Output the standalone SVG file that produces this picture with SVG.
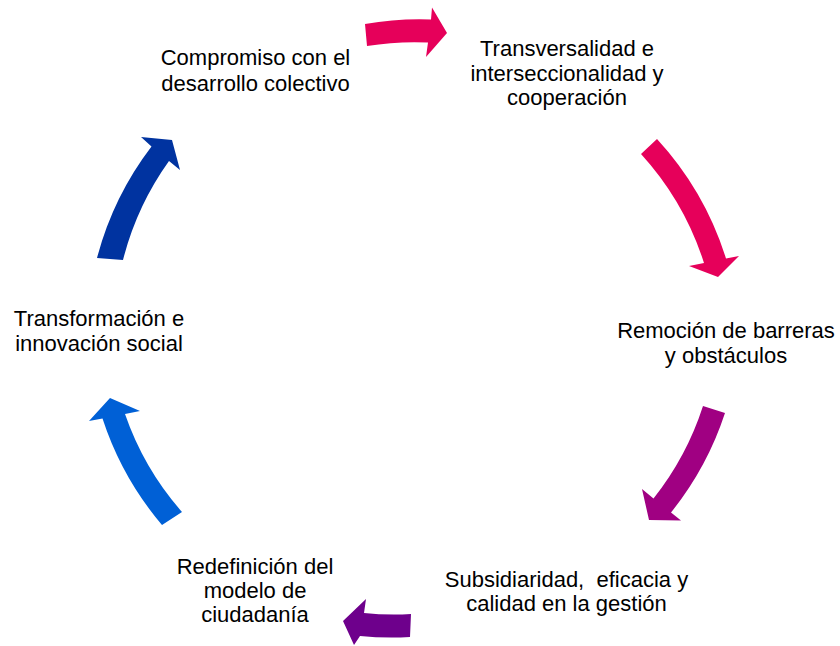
<svg xmlns="http://www.w3.org/2000/svg" width="840" height="646" viewBox="0 0 840 646">
<style>
text{font-family:"Liberation Sans",Arial,sans-serif;font-size:22px;fill:#000;text-anchor:middle}
</style>
<rect width="840" height="646" fill="#fff"/>
<g id="connectors">
<path id="a1" fill="#E6005A" d="M365,24 A316,316 0 0 1 431,19.5 L432,7.5 L447,33 L426,57 L428,42.5 A294,294 0 0 0 367,46 Z"/>
<path id="a2" fill="#E6005A" d="M657,139 A316,316 0 0 1 726,258.5 L739,256 L718,277 L689,266 L704,263 A294,294 0 0 0 641,154 Z"/>
<path id="a3" fill="#A00082" d="M725,413 A316,316 0 0 1 671,512.5 L681,520.5 L649,520 L642,489 L653.5,498.5 A294,294 0 0 0 703,406 Z"/>
<path id="a4" fill="#6E008C" d="M410,637 A316,316 0 0 1 360,636 L354,645 L343,621 L366,599 L364,613 A294,294 0 0 0 411,614 Z"/>
<path id="a5" fill="#0060D6" d="M162,525 A316,316 0 0 1 102.5,418.5 L89,421 L110,398 L140,411 L125,414 A294,294 0 0 0 182,512 Z"/>
<path id="a6" fill="#0033A0" d="M97,258 A316,316 0 0 1 151.5,146.5 L141,137 L172,140 L180,170 L169,161 A294,294 0 0 0 123,260 Z"/>
</g>
<g id="n1"><text x="255.5" y="65">Compromiso con el</text><text x="255.5" y="91">desarrollo colectivo</text></g>
<g id="n2"><text x="567" y="56">Transversalidad e</text><text x="567" y="81">interseccionalidad y</text><text x="567" y="105">cooperación</text></g>
<g id="n3"><text x="726" y="338">Remoción de barreras</text><text x="726" y="363">y obstáculos</text></g>
<g id="n4"><text x="566.5" y="587">Subsidiaridad,&#160; eficacia y</text><text x="566.5" y="611">calidad en la gestión</text></g>
<g id="n5"><text x="255" y="574">Redefinición del</text><text x="255" y="598">modelo de</text><text x="255" y="622">ciudadanía</text></g>
<g id="n6"><text x="99" y="326">Transformación e</text><text x="99" y="351">innovación social</text></g>
</svg>
